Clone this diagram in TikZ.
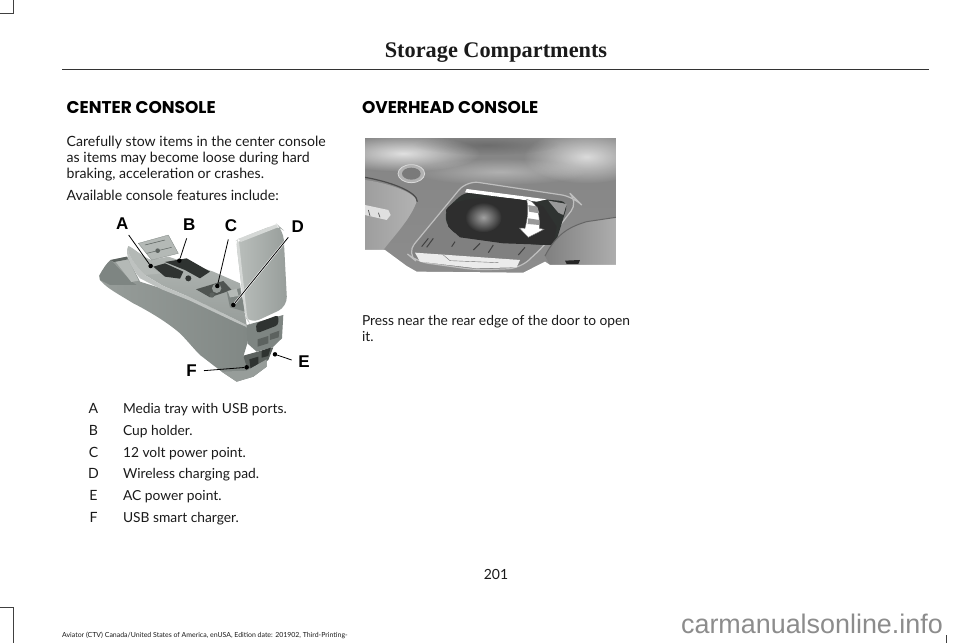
\documentclass[tikz,border=0pt]{standalone}
\usepackage{fontspec}
\setmainfont{Lato}
\newfontfamily\headf{Poppins}
\newfontfamily\titlef{Liberation Serif}
\newfontfamily\callf{Liberation Sans}
\usetikzlibrary{calc,fadings}
\definecolor{ink}{HTML}{1A1A1A}
\definecolor{ga}{HTML}{D5D8D6}
\definecolor{gb}{HTML}{B4B9B6}
\definecolor{gc}{HTML}{979D9A}
\definecolor{gd}{HTML}{7E8582}
\definecolor{ge}{HTML}{5C625F}
\definecolor{gf}{HTML}{2F3331}
\tikzfading[name=softc,inner color=transparent!0,outer color=transparent!100]
\newcommand{\blob}[6]{\path[fill=#1,fill opacity=#2,path fading=softc] (#3,#4) ellipse[x radius=#5,y radius=#6];}
\tikzset{
  txt/.style={anchor=base west,inner sep=0pt,outer sep=0pt,text=ink,font=\fontsize{14.1}{14.1}\selectfont},
  txtn/.style={anchor=base west,inner sep=0pt,outer sep=0pt,text=ink,font=\fontsize{13.8}{13.8}\selectfont},
  head/.style={anchor=base west,inner sep=0pt,outer sep=0pt,text=black,font=\fontsize{17}{17}\headf\bfseries},
  key/.style={anchor=base,inner sep=0pt,outer sep=0pt,text=ink,font=\fontsize{14.1}{14.1}\selectfont},
  callout/.style={anchor=base,inner sep=0pt,outer sep=0pt,text=black,font=\fontsize{17}{17}\callf\bfseries},
  leader/.style={draw=black,line width=0.8pt},
  crop/.style={draw=black!75,line width=0.8pt},
  dotm/.style={circle,fill=black,inner sep=0pt,minimum size=4.5pt},
}
\begin{document}
\begin{tikzpicture}[x=1pt,y=-1pt]
\useasboundingbox (0,0) rectangle (960,643);
\fill[white] (0,0) rectangle (960,643);
% crop marks
\draw[crop] (0,13) -- (13,13) -- (13,0);
\draw[crop] (0,607) -- (13,607) -- (13,643);
\draw[crop] (946.7,635) -- (946.7,643);
% header
\node[anchor=base,inner sep=0pt,text=ink,font=\fontsize{22.3}{22.3}\titlef\bfseries] (title) at (496,57) {Storage Compartments};
\draw[draw=black!80,line width=1pt] (62,69.8) -- (929,69.8);
% left column
\node[head] (h1) at (66.7,113) {CENTER CONSOLE};
\node[txt] (l1) at (66.7,146) {Carefully stow items in the center console};
\node[txt] (l2) at (66.7,162) {as items may become loose during hard};
\node[txt] (l3) at (66.7,178) {braking, acceleration or crashes.};
\node[txt] (l4) at (66.7,200) {Available console features include:};
% right column
\node[head] (h2) at (362,113) {OVERHEAD CONSOLE};
\node[txtn] (r1) at (362,325) {Press near the rear edge of the door to open};
\node[txtn] (r2) at (362,341) {it.};
% key
\foreach \k/\t/\y in {A/Media tray with USB ports./413.5,B/Cup holder./435,C/12 volt power point./457,D/Wireless charging pad./478.5,E/AC power point./500.5,F/USB smart charger./522.5}{
  \node[key] (k\k) at (93.5,\y) {\k};
  \node[txtn] (t\k) at (123,\y) {\t};
}
% footer
\node[anchor=base,inner sep=0pt,text=ink,font=\fontsize{14}{14}\selectfont] (page) at (496,579) {201};
\node[anchor=base west,inner sep=0pt,text=ink,font=\fontsize{6.95}{6.95}\selectfont] (foot) at (62,637) {Aviator (CTV) Canada/United States of America, enUSA, Edition date: 201902, Third-Printing-};
% console illustration (coordinates read at 3x)
\begin{scope}[shift={(90,210)},x=0.3333pt,y=-0.3333pt]
  % whole silhouette / side panel
  \path[left color=gc,right color=gd]
    (28,197) .. controls (40,175) and (50,160) .. (62,150) -- (112,140) -- (150,215) -- (300,262) -- (470,345)
    -- (472,400) -- (460,440) -- (530,440) -- (530,470) -- (490,500) -- (440,515) -- (395,485)
    -- (330,435) .. controls (310,415) and (295,395) .. (270,370) .. controls (230,335) and (170,300) .. (130,280)
    .. controls (90,255) and (50,235) .. (30,210) -- cycle;
  % front wedge
  \fill[gd] (28,197) .. controls (40,175) and (50,160) .. (62,150) -- (125,215) -- (140,225) -- (60,225) -- (30,210) -- cycle;
  % stippled pad
  \fill[gb] (75,153) -- (112,143) -- (146,212) -- (124,216) -- cycle;
  \fill[ge] (62,150) -- (110,140) -- (114,148) -- (72,156) -- cycle;
  % deck
  \path[top color=gb,bottom color=gc]
    (115,108) .. controls (135,118) and (165,145) .. (185,150) -- (235,140) -- (370,185) -- (450,220)
    -- (470,345) -- (440,330) -- (300,262) -- (220,228) -- (165,195) .. controls (140,170) and (108,130) .. (115,108) -- cycle;
  % raised rim
  \path[fill=gb!70!ga] (115,108) .. controls (108,130) and (140,170) .. (165,195) -- (220,228) -- (300,262) -- (440,330) -- (470,345)
    -- (472,352) -- (440,338) -- (300,272) -- (215,238) -- (150,205) .. controls (128,180) and (100,130) .. (115,108) -- cycle;
  \fill[gb] (115,108) .. controls (135,118) and (165,145) .. (185,175) -- (215,190) -- (165,195) .. controls (140,170) and (108,130) .. (115,108) -- cycle;
  % plate
  \fill[gb,draw=gd,line width=0.3pt] (145,100) -- (235,75) -- (265,130) -- (185,150) -- cycle;
  \draw[ge,line width=0.5pt] (165,105) -- (225,90) (170,130) -- (245,112);
  \fill[ge] (203,122) circle (7);
  % trays
  \fill[gf] (190,170) -- (225,160) -- (280,185) -- (270,206) -- (225,200) -- cycle;
  \fill[gf] (225,156) -- (290,145) -- (360,185) -- (330,205) -- (285,180) -- cycle;
  \fill[gf] (295,205) circle (9);
  % power point recess
  \fill[ge!70!gf] (318,238) -- (400,213) -- (425,240) -- (360,262) -- cycle;
  \fill[gc] (380,235) circle (14);
  \fill[ge] (366,255) circle (8);
  % charging pad
  \fill[gd] (410,245) -- (450,235) -- (466,305) -- (420,292) -- cycle;
  \fill[gb] (413,243) -- (440,236) -- (446,258) -- (420,262) -- cycle;
  % rear panel
  \fill[gd] (470,345) -- (580,315) -- (576,385) -- (548,412) -- (500,425) -- (472,400) -- cycle;
  \fill[gf,rounded corners=3pt] (498,340) -- (565,315) -- (565,345) -- (500,370) -- cycle;
  \fill[ge] (503,388) -- (535,378) -- (535,400) -- (503,410) -- cycle;
  \fill[ge] (540,372) -- (568,362) -- (566,382) -- (540,390) -- cycle;
  % lower part
  \fill[ge] (460,437) -- (550,412) -- (535,450) -- (490,480) -- (470,470) -- cycle;
  \fill[gf] (478,448) -- (505,440) -- (505,462) -- (482,478) -- cycle;
  \fill[gf] (515,422) -- (542,413) -- (535,438) -- (515,443) -- cycle;
  \fill[gc] (395,485) -- (470,482) -- (530,448) -- (530,470) -- (490,500) -- (440,515) -- cycle;
  % armrest
  \path[left color=gb!80!ga,right color=gc,rounded corners=10pt]
    (438,90) -- (560,42) -- (580,60) -- (592,290) -- (480,342) -- (465,320) -- cycle;
  \fill[ga,rounded corners=4pt] (438,92) -- (446,86) -- (472,325) -- (482,340) -- (466,322) -- cycle;
  \fill[ga] (446,86) -- (558,43) -- (564,52) -- (452,96) -- cycle;
  % callouts
  \node[dotm] (dA) at (182,168) {};
  \node[dotm] (dB) at (268,152) {};
  \node[dotm] (dC) at (382,228) {};
  \node[dotm] (dD) at (430,285) {};
  \node[dotm] (dE) at (555,433) {};
  \node[dotm] (dF) at (470,472) {};
  \coordinate (eA) at (116,75);
  \coordinate (eB) at (290,85);
  \coordinate (eC) at (415,88);
  \coordinate (eD) at (595,82);
  \coordinate (eE) at (605,450);
  \coordinate (eF) at (342,482);
  \draw[leader] (eA) -- (dA);
  \draw[leader] (eB) -- (dB);
  \draw[leader] (eC) -- (dC);
  \draw[draw=white,line width=2pt] (eD) -- (dD);
  \draw[leader] (eD) -- (dD);
  \draw[leader] (eE) -- (dE);
  \draw[leader] (eF) -- (dF);
  \node[callout] (cA) at (97,58) {A};
  \node[callout] (cB) at (298,60) {B};
  \node[callout] (cC) at (423,65) {C};
  \node[callout] (cD) at (623,66) {D};
  \node[callout] (cE) at (642,473) {E};
  \node[callout] (cF) at (305,501) {F};
\end{scope}
% overhead console illustration
\begin{scope}[shift={(360,130)},x=0.3333pt,y=-0.3333pt]
  \begin{scope}
    \clip (15,25) rectangle (768,430);
    \path[top color=black!48,bottom color=black!45] (15,25) rectangle (768,430);
    \blob{white}{0.75}{130}{70}{230}{55}
    \blob{white}{0.7}{680}{80}{190}{80}
    \blob{black}{0.18}{380}{45}{220}{30}
    \blob{white}{0.35}{420}{125}{260}{40}
    % left visor
    \path[left color=black!38,right color=black!30] (15,150) .. controls (90,160) and (170,190) .. (170,215)
       .. controls (150,270) and (100,320) .. (70,360) -- (15,360) -- cycle;
    \draw[black!70,line width=1.2pt] (15,142) .. controls (90,155) and (172,185) .. (172,215);
    \fill[black!12] (15,225) -- (85,240) -- (92,255) -- (80,270) -- (15,255) -- cycle;
    \draw[black!65,line width=0.7pt] (25,240) -- (30,258) (55,248) -- (60,262);
    % microphone
    \fill[black!30,draw=black!15,line width=0.8pt] (154,131) circle[x radius=40,y radius=27];
    \fill[black!52] (154,131) circle[x radius=28,y radius=18];
    % bezel
    \fill[black!50,draw=black!25,line width=1.2pt,rounded corners=12pt]
       (320,152) -- (640,200) -- (655,215) -- (555,345) -- (480,415) -- (350,420) -- (170,395) -- (140,370) -- cycle;
    % opening
    \fill[gf,rounded corners=8pt] (315,185) -- (625,215) -- (610,265) -- (585,345) -- (540,345) -- (300,320) -- (260,290) -- (255,240) -- cycle;
    \fill[white] (320,177) -- (560,208) -- (530,215) -- (315,187) -- cycle;
    \fill[black!40] (565,212) -- (620,222) -- (610,255) -- (595,248) -- cycle;
    % door
    \fill[black!82] (258,240) .. controls (280,190) and (500,195) .. (550,230) -- (590,290) -- (580,345) -- (430,340) -- (300,322) -- (265,290) -- cycle;
    \blob{white}{0.55}{370}{262}{55}{45}
    % light panel
    \fill[black!8] (165,368) -- (480,390) -- (470,412) -- (350,415) -- (180,395) -- cycle;
    \draw[black!55,line width=0.4pt] (250,375) -- (270,392) -- (415,398);
    \draw[black!75,line width=1pt] (185,350) -- (205,325) (200,352) -- (220,325) (275,350) -- (285,335) (340,360) -- (360,340) (385,368) -- (400,345) (475,375) -- (495,352);
    % arrow
    \fill[white,draw=black!55,line width=0.4pt] (500,208) .. controls (525,215) and (540,235) .. (538,295) -- (552,298) -- (505,322) -- (478,294) -- (495,295) .. controls (505,260) and (505,230) .. (500,208) -- cycle;
    \fill[black!40] (505,225) -- (532,230) -- (538,250) -- (507,245) -- cycle;
    \fill[black!40] (505,265) -- (538,270) -- (538,285) -- (503,282) -- cycle;
    % right visor
    \path[left color=black!50,right color=black!32] (555,378) .. controls (590,310) and (630,290) .. (680,275) -- (768,262) -- (768,405) -- (570,405) -- cycle;
    \draw[black!60,line width=1pt] (555,378) .. controls (590,310) and (630,290) .. (680,275) -- (768,262);
    \fill[black!85] (615,392) -- (660,390) -- (655,402) -- (620,402) -- cycle;
    % white below the roof liner
    \fill[white] (15,360) -- (75,360) -- (140,408) -- (170,425) -- (490,428) -- (555,395) -- (570,405) -- (768,405) -- (768,440) -- (15,440) -- cycle;
  \end{scope}
\end{scope}
% watermark
\node[anchor=base east,inner sep=0pt,text=black!45,font=\fontsize{26.9}{26.9}\callf] (wm) at (943,633) {carmanualsonline.info};
\end{tikzpicture}
\end{document}
